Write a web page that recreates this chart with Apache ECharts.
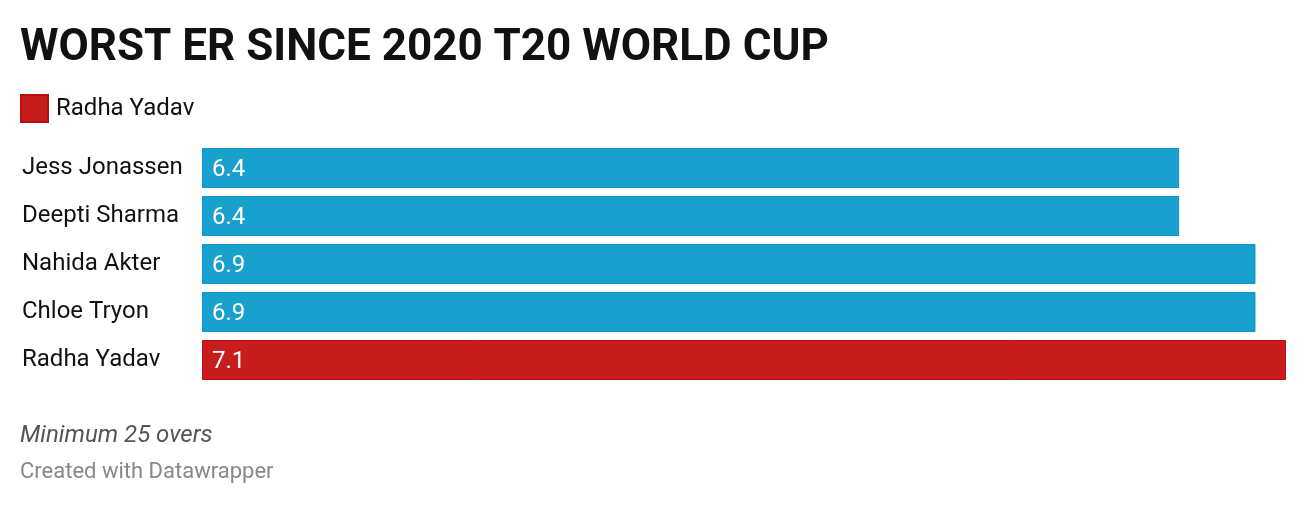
<!DOCTYPE html>
<html>
<head>
<meta charset="utf-8">
<script src="https://cdn.jsdelivr.net/npm/echarts@6/dist/echarts.min.js"></script>
<style>
html,body{margin:0;padding:0;background:#fff;}
#chart{width:1308px;height:506px;}
</style>
</head>
<body>
<div id="chart"></div>
<script>
const categories = ['Jess Jonassen', 'Deepti Sharma', 'Nahida Akter', 'Chloe Tryon', 'Radha Yadav'];
const values = [6.4, 6.4, 6.9, 6.9, 7.1];
const highlight = 'Radha Yadav';
const titleText = 'WORST ER SINCE 2020 T20 WORLD CUP';
const noteText = 'Minimum 25 overs';
const creditText = 'Created with Datawrapper';

const blueVals = categories.map((c, i) => c === highlight ? null : values[i]);
const redVals = categories.map((c, i) => c === highlight ? values[i] : null);

const chart = echarts.init(document.getElementById('chart'), null, {renderer: 'canvas'});
const font = 'Roboto, "Noto Sans", sans-serif';
const labelCfg = {
  show: true, position: 'insideLeft', distance: 10, offset: [0, 2],
  color: '#ffffff', fontSize: 24, fontFamily: font,
  formatter: p => p.value.toFixed(1)
};
chart.setOption({
  animation: false,
  backgroundColor: '#ffffff',
  title: [
    {text: titleText, left: 15, top: 22,
     textStyle: {fontFamily: font, fontSize: 44, fontWeight: 'bold', color: '#111111'}},
    {text: noteText, left: 15, top: 419,
     textStyle: {fontFamily: font, fontSize: 24, fontStyle: 'italic', fontWeight: 'normal', color: '#555555'}},
    {text: creditText, left: 15, top: 456,
     textStyle: {fontFamily: font, fontSize: 22, fontWeight: 'normal', color: '#888888'}}
  ],
  legend: {
    data: [highlight], left: 15, top: 89,
    icon: 'rect', itemWidth: 27, itemHeight: 27, itemGap: 10,
    textStyle: {fontFamily: font, fontSize: 24, color: '#111111', padding: [2, 0, 0, 3]},
    selectedMode: false
  },
  grid: {left: 202, right: 22, top: 144, bottom: 122, containLabel: false},
  xAxis: {type: 'value', min: 0, max: 7.1, show: false},
  yAxis: {
    type: 'category', data: categories, inverse: true,
    axisLine: {show: false}, axisTick: {show: false}, splitLine: {show: false},
    axisLabel: {align: 'left', margin: 180, fontFamily: font, fontSize: 24, color: '#111111', padding: [4, 0, 0, 0]}
  },
  series: [
    {name: 'Others', type: 'bar', data: blueVals, barWidth: 40, barGap: '-100%',
     itemStyle: {color: '#18a1cd', borderColor: '#0b94c6', borderWidth: 1},
     label: labelCfg},
    {name: highlight, type: 'bar', data: redVals, barWidth: 40, barGap: '-100%',
     itemStyle: {color: '#c71e1d', borderColor: '#b50f0e', borderWidth: 1},
     label: labelCfg}
  ]
});
</script>
</body>
</html>
